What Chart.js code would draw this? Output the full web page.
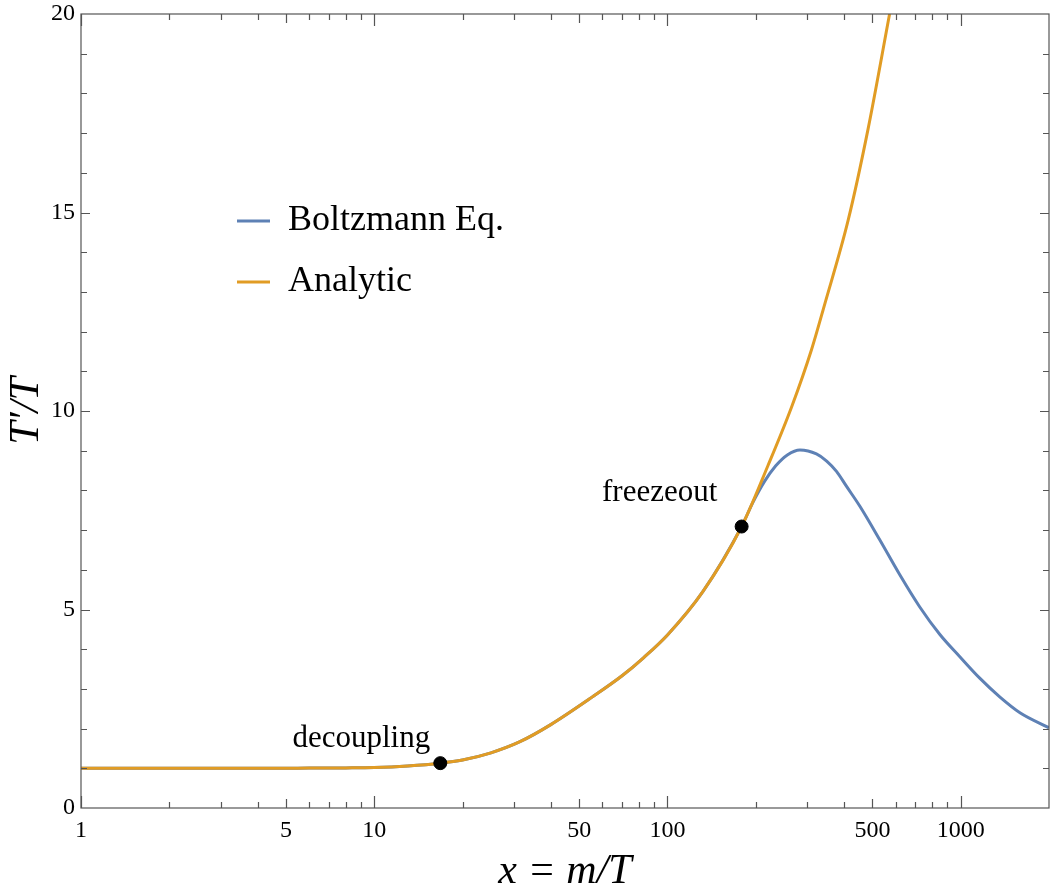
<!DOCTYPE html>
<html>
<head>
<meta charset="utf-8">
<script src="https://cdn.jsdelivr.net/npm/chart.js@4"></script>
<style>
  body { margin: 0; background: #fff; }
</style>
</head>
<body>
<canvas id="chart" width="1050" height="894"></canvas>

<script>
  // x = m/T values (log axis)
  const xAnalytic = [1, 2, 4, 6, 8, 10, 13, 16.8, 20, 25, 31.4, 40, 56, 70, 83, 100, 132, 179, 220, 265, 310, 344, 413, 483, 572];
  const yAnalytic = [1.0, 1.0, 1.0, 1.005, 1.01, 1.02, 1.06, 1.13, 1.21, 1.39, 1.67, 2.1, 2.82, 3.33, 3.79, 4.36, 5.45, 7.09, 8.62, 10.1, 11.55, 12.7, 14.8, 17.1, 20];

  const xBoltzmann = [1, 2, 4, 6, 8, 10, 13, 16.8, 20, 25, 31.4, 40, 56, 70, 83, 100, 132, 179, 195, 214, 234, 257, 283, 322, 349, 377, 408, 453, 530, 619, 724, 849, 993, 1161, 1358, 1592, 2000];
  const yBoltzmann = [1.0, 1.0, 1.0, 1.005, 1.01, 1.02, 1.06, 1.13, 1.21, 1.39, 1.67, 2.1, 2.82, 3.33, 3.79, 4.36, 5.45, 7.09, 7.68, 8.22, 8.62, 8.9, 9.02, 8.92, 8.74, 8.48, 8.1, 7.6, 6.75, 5.88, 5.07, 4.37, 3.81, 3.27, 2.8, 2.4, 2.02];

  // marked points
  const markNames = ['decoupling', 'freezeout'];
  const markX = [16.8, 179];
  const markY = [1.13, 7.09];

  // axis labels
  const xTickLabels = [1, 5, 10, 50, 100, 500, 1000];
  const yTickLabels = [0, 5, 10, 15, 20];

  const seriesNames = ['Boltzmann Eq.', 'Analytic'];
  const blue = '#5e81b5';
  const orange = '#e19c24';
  const frameColor = '#555';
  const serif = '"Liberation Serif", "DejaVu Serif", serif';

  const toPoints = (xs, ys) => xs.map((x, i) => ({ x: x, y: ys[i] }));

  // all tick positions on the log axis: 1..9, 10..90, ...
  const xTickPositions = [];
  for (let d = 1; d <= 1000; d *= 10) {
    for (let k = 1; k <= 9; k++) {
      if (k * d < 2000) xTickPositions.push(k * d);
    }
  }

  // frame with inward ticks on all four sides, legend and text labels
  const decorations = {
    id: 'decorations',
    afterDatasetsDraw(chart) {
      const ctx = chart.ctx;
      const a = chart.chartArea;
      const xs = chart.scales.x;
      const ys = chart.scales.y;
      ctx.save();
      ctx.strokeStyle = frameColor;
      ctx.lineWidth = 1.2;
      ctx.strokeRect(a.left, a.top, a.right - a.left, a.bottom - a.top);

      // x ticks
      xTickPositions.forEach(v => {
        const px = Math.round(xs.getPixelForValue(v)) + 0.5;
        const lead = String(v)[0];
        let len = 6;
        if (lead === '1') len = 12; else if (lead === '5') len = 9;
        ctx.beginPath();
        ctx.moveTo(px, a.bottom); ctx.lineTo(px, a.bottom - len);
        ctx.moveTo(px, a.top); ctx.lineTo(px, a.top + len);
        ctx.stroke();
      });
      // y ticks
      for (let v = 1; v < 20; v++) {
        const py = Math.round(ys.getPixelForValue(v)) + 0.5;
        const len = v % 5 === 0 ? 9 : 6;
        ctx.beginPath();
        ctx.moveTo(a.left, py); ctx.lineTo(a.left + len, py);
        ctx.moveTo(a.right, py); ctx.lineTo(a.right - len, py);
        ctx.stroke();
      }

      // legend
      ctx.lineWidth = 3;
      const legendColors = [blue, orange];
      const legendY = [221, 282];
      ctx.font = '36px ' + serif;
      ctx.fillStyle = '#000';
      ctx.textBaseline = 'middle';
      ctx.textAlign = 'left';
      seriesNames.forEach((name, i) => {
        ctx.strokeStyle = legendColors[i];
        ctx.beginPath();
        ctx.moveTo(237, legendY[i]); ctx.lineTo(270, legendY[i]);
        ctx.stroke();
        ctx.fillText(name, 288, legendY[i]);
      });

      // point annotations
      ctx.font = '31px ' + serif;
      ctx.textAlign = 'center';
      ctx.textBaseline = 'alphabetic';
      const offsets = [[-79, -16], [-82, -26]];
      markNames.forEach((name, i) => {
        const px = xs.getPixelForValue(markX[i]);
        const py = ys.getPixelForValue(markY[i]);
        ctx.fillText(name, px + offsets[i][0], py + offsets[i][1]);
      });
      ctx.restore();
    }
  };

  const ctx = document.getElementById('chart').getContext('2d');
  new Chart(ctx, {
    type: 'line',
    data: {
      datasets: [
        {
          label: 'points',
          type: 'scatter',
          data: toPoints(markX, markY),
          backgroundColor: '#000',
          borderColor: '#000',
          pointRadius: 6.5,
          order: 0
        },
        {
          label: seriesNames[1],
          data: toPoints(xAnalytic, yAnalytic),
          borderColor: orange,
          borderWidth: 3,
          pointRadius: 0,
          cubicInterpolationMode: 'monotone',
          fill: false,
          order: 1
        },
        {
          label: seriesNames[0],
          data: toPoints(xBoltzmann, yBoltzmann),
          borderColor: blue,
          borderWidth: 3,
          pointRadius: 0,
          cubicInterpolationMode: 'monotone',
          fill: false,
          order: 2
        }
      ]
    },
    options: {
      responsive: false,
      animation: false,
      layout: { autoPadding: false, padding: { top: 14, right: 1, left: 0, bottom: 0 } },
      plugins: {
        legend: { display: false },
        tooltip: { enabled: false }
      },
      scales: {
        x: {
          type: 'logarithmic',
          min: 1,
          max: 2000,
          grid: { display: false, drawTicks: false },
          border: { display: false },
          afterBuildTicks: scale => {
            scale.ticks = xTickPositions.map(v => ({ value: v }));
          },
          afterFit: scale => {
            scale.height = 86;
            scale.paddingLeft = 0;
            scale.paddingRight = 0;
          },
          ticks: {
            autoSkip: false,
            maxRotation: 0,
            padding: 8,
            color: '#000',
            font: { family: serif, size: 24 },
            callback: v => (xTickLabels.includes(v) ? String(v) : '')
          },
          title: {
            display: true,
            text: 'x = m/T',
            color: '#000',
            font: { family: serif, size: 42, style: 'italic' },
            padding: { top: 2, bottom: -3 }
          }
        },
        y: {
          min: 0,
          max: 20,
          grid: { display: false, drawTicks: false },
          border: { display: false },
          afterBuildTicks: scale => {
            scale.ticks = yTickLabels.map(v => ({ value: v }));
          },
          afterFit: scale => {
            scale.width = 81;
            scale.paddingTop = 0;
            scale.paddingBottom = 0;
          },
          ticks: {
            padding: 6,
            color: '#000',
            font: { family: serif, size: 24 }
          },
          title: {
            display: true,
            text: 'T\u2032/T',
            color: '#000',
            font: { family: serif, size: 42, style: 'italic' },
            padding: { top: 2, bottom: 2 }
          }
        }
      }
    },
    plugins: [decorations]
  });
</script>
</body>
</html>
